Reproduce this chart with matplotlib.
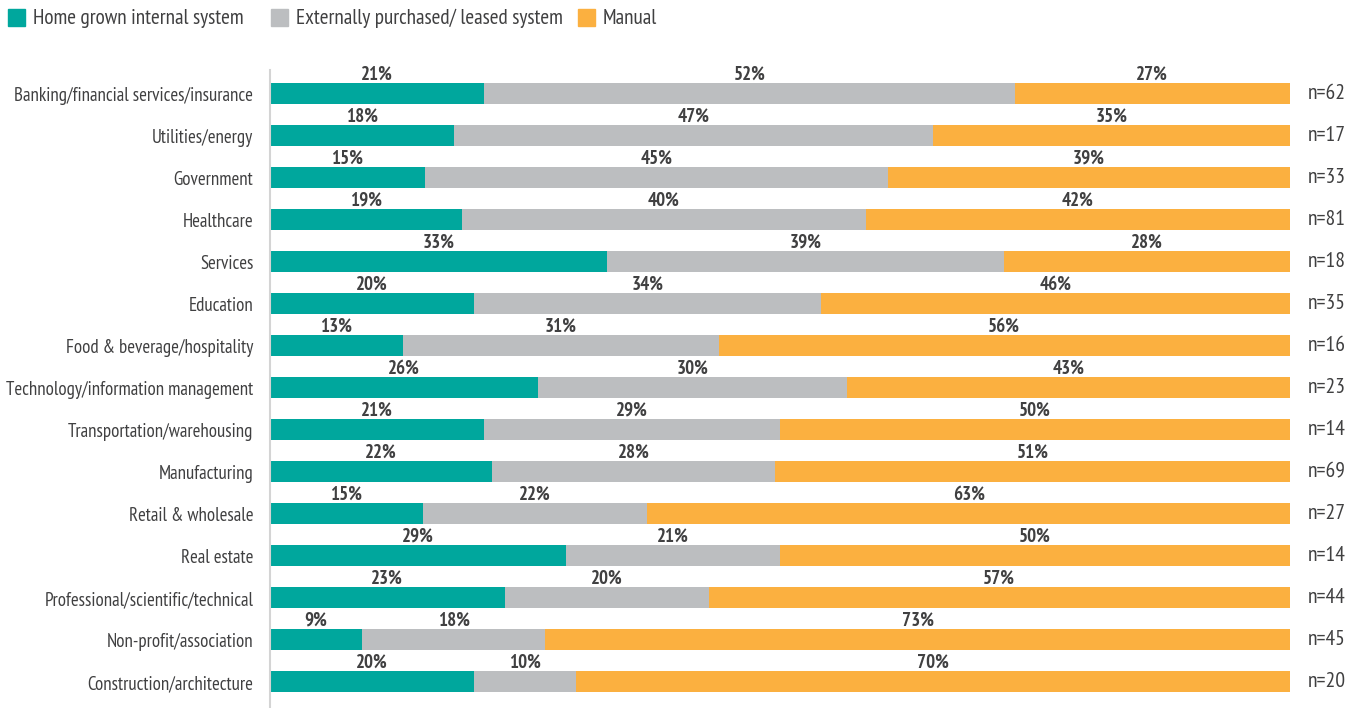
import numpy as np
import matplotlib
matplotlib.use("Agg")
import matplotlib.pyplot as plt
from matplotlib import font_manager
from matplotlib.patches import Rectangle

# survey data: share of each system type per industry
industries = ["Banking/financial services/insurance", "Utilities/energy", "Government",
              "Healthcare", "Services", "Education", "Food & beverage/hospitality",
              "Technology/information management", "Transportation/warehousing",
              "Manufacturing", "Retail & wholesale", "Real estate",
              "Professional/scientific/technical", "Non-profit/association",
              "Construction/architecture"]
home_grown = [21, 18, 15, 19, 33, 20, 13, 26, 21, 22, 15, 29, 23, 9, 20]
external = [52, 47, 45, 40, 39, 34, 31, 30, 29, 28, 22, 21, 20, 18, 10]
manual = [27, 35, 39, 42, 28, 46, 56, 43, 50, 51, 63, 50, 57, 73, 70]
n_resp = [62, 17, 33, 81, 18, 35, 16, 23, 14, 69, 27, 14, 44, 45, 20]

series_names = ["Home grown internal system", "Externally purchased/ leased system", "Manual"]
colors = ["#00A79D", "#BCBEC0", "#FBB040"]
text_col = "#404041"

# pick a narrow sans if one is around
names = {f.name for f in font_manager.fontManager.ttflist}
font = "DejaVu Sans"
for cand in ["PT Sans Narrow", "Archivo Narrow", "Fira Sans Extra Condensed",
             "Fira Sans Condensed", "Roboto Condensed", "Liberation Sans Narrow"]:
    if cand in names:
        font = cand
        break
plt.rcParams["font.family"] = [font, "DejaVu Sans"]

fig = plt.figure(figsize=(13.59, 7.08), dpi=100)
W, H = 1359, 708
renderer = fig.canvas.get_renderer()


def fit_size(s, width_px, weight="normal"):
    # font size that makes string s come out width_px wide
    t = fig.text(0, 0, s, fontsize=10, fontweight=weight)
    w = t.get_window_extent(renderer=renderer).width
    t.remove()
    return 10 * width_px / w


cat_size = fit_size(industries[0], 239)
val_size = fit_size("21%", 32, "bold")
n_size = fit_size("n=62", 38)
leg_size = fit_size(series_names[0], 212)

ax = fig.add_axes([270 / W, 0, 1020 / W, 638 / H])

data = np.array([home_grown, external, manual], dtype=float)
shares = data / data.sum(axis=0) * 100
y = np.arange(len(industries))

left = np.zeros(len(industries))
for k in range(3):
    ax.barh(y, shares[k], left=left, height=0.5, color=colors[k], edgecolor="none")
    for i in range(len(industries)):
        ax.text(left[i] + shares[k][i] / 2, y[i] - 0.46, f"{data[k][i]:.0f}%",
                ha="center", va="center", fontsize=val_size, fontweight="bold", color=text_col)
    left += shares[k]

for i in range(len(industries)):
    ax.text(101.75, y[i], f"n={n_resp[i]}", ha="left", va="center", fontsize=n_size, color=text_col)

ax.set_xlim(0, 100)
ax.set_ylim(14.62, -0.57)
ax.set_yticks(y)
ax.set_yticklabels(industries, fontsize=cat_size, color=text_col)
ax.tick_params(axis="y", length=0, pad=12)
ax.set_xticks([])
for s in ["top", "right", "bottom"]:
    ax.spines[s].set_visible(False)
ax.spines["left"].set_color("#d4d4d4")
ax.spines["left"].set_linewidth(1.5)

# legend row at the top
legend_x = [8, 271, 578]
for k in range(3):
    fig.patches.append(Rectangle((legend_x[k] / W, 1 - 26 / H), 17 / W, 17 / H,
                                 transform=fig.transFigure, color=colors[k]))
    fig.text((legend_x[k] + 25) / W, 1 - 18 / H, series_names[k], ha="left", va="center",
             fontsize=leg_size, color=text_col)

fig.savefig("out.png", dpi=100)
